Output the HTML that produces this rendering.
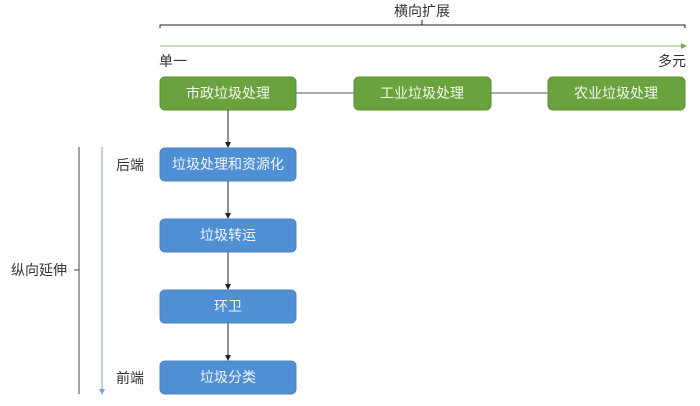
<!DOCTYPE html>
<html><head><meta charset="utf-8"><style>
body{margin:0;background:#fff;}
svg text{font-family:"Liberation Sans","Noto Sans CJK SC",sans-serif;}
</style></head><body>
<svg width="700" height="401" xmlns="http://www.w3.org/2000/svg">
<defs>
<marker id="a" markerWidth="6" markerHeight="6" refX="5" refY="3" orient="auto"><path d="M0,0 L6,3 L0,6 Z" fill="#222"/></marker>
<marker id="g" markerWidth="6" markerHeight="6" refX="5" refY="3" orient="auto"><path d="M0,0 L6,3 L0,6 Z" fill="#7fa85a"/></marker>
<marker id="b" markerWidth="6" markerHeight="6" refX="5" refY="3" orient="auto"><path d="M0,0 L6,3 L0,6 Z" fill="#7aa6d0"/></marker>
</defs>
<text x="422" y="16" font-size="14" text-anchor="middle" fill="#333">横向扩展</text>
<path d="M160,28 V25 H685 V28 M422,25 V20" stroke="#222" fill="none" stroke-width="1"/>
<line x1="160" y1="46" x2="686" y2="46" stroke="#9cb87a" stroke-width="1" marker-end="url(#g)"/>
<text x="159" y="66" font-size="14" fill="#333">单一</text>
<text x="686" y="66" font-size="14" text-anchor="end" fill="#333">多元</text>
<line x1="296" y1="93" x2="548" y2="93" stroke="#555"/>
<g fill="#6aa33e" stroke="#5a8f33">
<rect x="160" y="77" width="136" height="33" rx="5"/>
<rect x="354" y="77" width="137" height="33" rx="5"/>
<rect x="548" y="77" width="137" height="33" rx="5"/>
</g>
<g font-size="14" fill="#f4f8ef" text-anchor="middle">
<text x="228" y="98">市政垃圾处理</text>
<text x="422" y="98">工业垃圾处理</text>
<text x="616" y="98">农业垃圾处理</text>
</g>
<g stroke="#222" marker-end="url(#a)">
<line x1="228" y1="110" x2="228" y2="147"/>
<line x1="228" y1="181" x2="228" y2="218"/>
<line x1="228" y1="252" x2="228" y2="289"/>
<line x1="228" y1="323" x2="228" y2="360"/>
</g>
<g fill="#4f8fd3" stroke="#4a84c2">
<rect x="160" y="148" width="136" height="33" rx="5"/>
<rect x="160" y="219" width="136" height="33" rx="5"/>
<rect x="160" y="290" width="136" height="33" rx="5"/>
<rect x="160" y="361" width="136" height="33" rx="5"/>
</g>
<g font-size="14" fill="#f2f6fb" text-anchor="middle">
<text x="228" y="169">垃圾处理和资源化</text>
<text x="228" y="240">垃圾转运</text>
<text x="228" y="311">环卫</text>
<text x="228" y="382">垃圾分类</text>
</g>
<path d="M79,147 V394 M74,270 H79" stroke="#444" fill="none"/>
<line x1="102" y1="147" x2="102" y2="394" stroke="#7aa6d0" marker-end="url(#b)"/>
<text x="11" y="275" font-size="14" fill="#333">纵向延伸</text>
<text x="116" y="170" font-size="14" fill="#333">后端</text>
<text x="116" y="383" font-size="14" fill="#333">前端</text>
</svg>
</body></html>
